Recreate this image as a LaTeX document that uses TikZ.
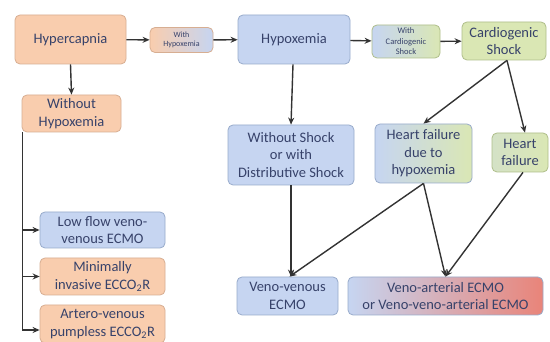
\documentclass[tikz,border=0pt]{standalone}
\usepackage{fontspec}
\setmainfont{Carlito}
\usepackage{tikz}
\usetikzlibrary{arrows.meta,positioning}
\definecolor{boxorange}{HTML}{F9CDAE}
\definecolor{boxblue}{HTML}{C6D5F1}
\definecolor{boxgreen}{HTML}{DAE7B4}
\definecolor{boxred}{HTML}{E98479}
\definecolor{edgeorange}{HTML}{D7AE92}
\definecolor{edgeblue}{HTML}{98ABCB}
\definecolor{edgegreen}{HTML}{AFBE8A}
\definecolor{txt}{HTML}{37426A}
\newcommand{\BoxFont}{\fontsize{14.5}{17.5}\selectfont}
\newcommand{\SmallFont}{\fontsize{8}{9.5}\selectfont}

\begin{document}
\begin{tikzpicture}[x=1pt,y=-1pt,
    box/.style={rounded corners=5pt, line width=0.8pt, align=center, text=txt,
                inner sep=1pt, font=\BoxFont},
    obox/.style={box, fill=boxorange, draw=edgeorange},
    bbox/.style={box, fill=boxblue, draw=edgeblue},
    gbox/.style={box, fill=boxgreen, draw=edgegreen},
    arr/.style={-{Stealth[length=7pt,width=6pt]}, line width=1.4pt, draw=black!80}]
    \fill[white] (0,0) rectangle (550,342);
    \useasboundingbox (0,0) rectangle (550,342);

    % top row
    \node (hyper) [obox, minimum width=111pt, minimum height=49pt] at (70.5,39.5) {Hypercapnia};
    \node (withhypo) [box, draw=edgeorange, left color=boxorange, right color=boxblue,
        minimum width=63pt, minimum height=25pt, font=\SmallFont] at (181.5,40) {With\\Hypoxemia};
    \node (hypox) [bbox, minimum width=112pt, minimum height=49pt] at (294,39.5) {Hypoxemia};
    \node (withcardio) [box, draw=edgegreen, left color=boxblue, right color=boxgreen,
        minimum width=68pt, minimum height=33pt, font=\fontsize{8.5}{10.5}\selectfont] at (406,41.5) {With\\Cardiogenic\\Shock};
    \node (cardio) [gbox, minimum width=84pt, minimum height=38pt] at (504,41) {Cardiogenic\\Shock};

    % left column
    \node (nohypo) [obox, minimum width=99pt, minimum height=37pt] at (71.5,113.5) {Without\\Hypoxemia};
    \node (lowflow) [bbox, minimum width=125pt, minimum height=36pt] at (102.5,230) {Low flow veno-\\venous ECMO};
    \node (mini) [obox, minimum width=125pt, minimum height=37pt] at (102.5,276.5) {Minimally\\invasive ECCO\textsubscript{2}R};
    \node (artero) [obox, minimum width=125pt, minimum height=38pt] at (102.5,324) {Artero-venous\\pumpless ECCO\textsubscript{2}R};

    % middle row
    \node (noshock) [bbox, minimum width=126pt, minimum height=60pt] at (291,155) {Without Shock\\or with\\Distributive Shock};
    \node (hfhypo) [box, draw=edgeblue, left color=boxblue, right color=boxgreen,
        minimum width=97pt, minimum height=59pt] at (423.5,153.5) {Heart failure\\due to\\hypoxemia};
    \node (hf) [box, draw=edgegreen, left color=boxgreen!70!boxblue, right color=boxgreen,
        minimum width=56pt, minimum height=39pt] at (520,152.5) {Heart\\failure};

    % bottom row
    \node (vv) [bbox, minimum width=101pt, minimum height=38pt] at (287.5,296) {Veno-venous\\ECMO};
    \node (va) [box, draw=edgeblue, left color=boxblue, right color=boxred,
        minimum width=195pt, minimum height=38pt] at (445.5,296) {Veno-arterial ECMO\\or Veno-veno-arterial ECMO};

    % connectors
    \draw[arr] (hyper) -- (withhypo);
    \draw[arr] (withhypo) -- (hypox);
    \draw[arr] (hypox) -- (withcardio);
    \draw[arr] (withcardio) -- (cardio);
    \draw[arr] (hyper.south) -- (nohypo.north);
    \draw[arr] (nohypo.south west) ++(1,0) |- (lowflow.west);
    \draw[arr] (nohypo.south west) ++(1,0) |- (mini.west);
    \draw[arr] (nohypo.south west) ++(1,0) |- ([yshift=-6pt]artero.west);
    \draw[arr] ([xshift=-1pt]hypox.south) -- (noshock.north);
    \draw[arr] ([xshift=3pt]cardio.south) -- (hfhypo.north);
    \draw[arr] ([xshift=3pt]cardio.south) -- ([xshift=5pt]hf.north);
    \draw[arr] (noshock.south) -- (noshock.south |- vv.north);
    \draw[arr] (hfhypo.south) -- ([xshift=2pt]vv.north);
    \draw[arr] (hfhypo.south) -- (va.north);
    \draw[arr] ([xshift=3pt]hf.south) -- (va.north);
\end{tikzpicture}
\end{document}
